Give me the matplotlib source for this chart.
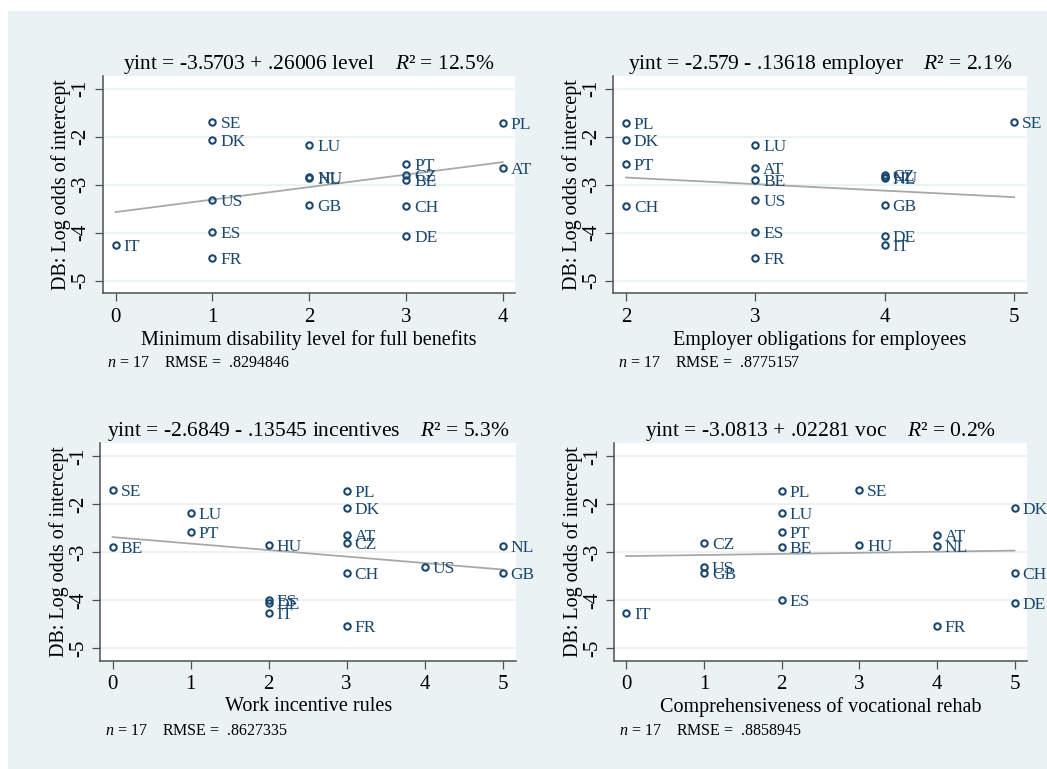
import matplotlib
matplotlib.use("Agg")
import matplotlib.pyplot as plt
from matplotlib.patches import Rectangle
import numpy as np

# Country codes and the dependent variable (DB: log odds of intercept)
countries = ["SE", "PL", "DK", "LU", "PT", "AT", "CZ", "NL", "HU", "BE",
             "US", "GB", "CH", "ES", "DE", "IT", "FR"]
log_odds = [-1.70, -1.72, -2.07, -2.18, -2.57, -2.65, -2.80, -2.87, -2.85, -2.90,
            -3.31, -3.43, -3.44, -3.99, -4.06, -4.26, -4.53]

# Policy indicators, in the same country order
level = [1, 4, 1, 2, 3, 4, 3, 2, 2, 3, 1, 2, 3, 1, 3, 0, 1]
employer = [5, 2, 2, 3, 2, 3, 4, 4, 4, 3, 3, 4, 2, 3, 4, 4, 3]
incentives = [0, 3, 3, 1, 1, 3, 3, 5, 2, 0, 4, 5, 3, 2, 2, 2, 3]
voc = [3, 2, 5, 2, 2, 4, 1, 4, 3, 2, 1, 1, 5, 2, 5, 0, 4]

# Regression results per indicator
var_names = ["level", "employer", "incentives", "voc"]
x_titles = ["Minimum disability level for full benefits",
            "Employer obligations for employees",
            "Work incentive rules",
            "Comprehensiveness of vocational rehab"]
intercepts = [-3.5703, -2.579, -2.6849, -3.0813]
slopes = [0.26006, -0.13618, -0.13545, 0.02281]
r_squared = ["12.5%", "2.1%", "5.3%", "0.2%"]
n_obs = [17, 17, 17, 17]
rmse = [0.8294846, 0.8775157, 0.8627335, 0.8858945]
x_ticks = [[0, 1, 2, 3, 4], [2, 3, 4, 5], [0, 1, 2, 3, 4, 5], [0, 1, 2, 3, 4, 5]]
y_ticks = [-5, -4, -3, -2, -1]

plt.rcParams["font.family"] = ["Liberation Serif", "DejaVu Serif"]
plt.rcParams["mathtext.fontset"] = "custom"
plt.rcParams["mathtext.rm"] = "Liberation Serif"
plt.rcParams["mathtext.it"] = "Liberation Serif:italic"
plt.rcParams["axes.unicode_minus"] = False

W, H = 1047, 769
fig = plt.figure(figsize=(W / 100, H / 100), dpi=100, facecolor="white")
bg = Rectangle((8 / W, 0), 1 - 8 / W, 1 - 11 / H, transform=fig.transFigure,
               facecolor="#eaf2f3", edgecolor="none", zorder=-10)
fig.add_artist(bg)

NAVY = "#1a476f"
GRID = "#eaf2f3"
AXC = "#505050"

# panel boxes in pixels: (left, top, right, bottom), and x limits
boxes = [(102.7, 75.7, 515.3, 293.3), (613.4, 75.7, 1026.5, 293.3),
         (100.4, 443.3, 516.1, 660.7), (614.4, 443.3, 1026.5, 660.7)]
xlims = [(-0.134, 4.13), (1.903, 5.096), (-0.157, 5.172), (-0.152, 5.154)]
xdata = [level, employer, incentives, voc]

for i in range(4):
    l, t, r, b = boxes[i]
    ax = fig.add_axes([l / W, 1 - b / H, (r - l) / W, (b - t) / H])
    ax.set_facecolor("white")
    x = np.array(xdata[i], dtype=float)
    y = np.array(log_odds)

    for yt in y_ticks:
        ax.axhline(yt, color=GRID, lw=1.3, zorder=0.5)

    xs = np.array([x.min(), x.max()])
    ax.plot(xs, intercepts[i] + slopes[i] * xs, color="#a8a8a8", lw=1.3, zorder=2)

    ax.plot(x, y, linestyle="none", marker="o", ms=4.6, mfc="none",
            mec=NAVY, mew=1.5, zorder=3)
    for xi, yi, c in zip(x, y, countries):
        ax.annotate(c, (xi, yi), xytext=(8, -2), textcoords="offset pixels",
                    ha="left", va="center", fontsize=12.5, color=NAVY, zorder=4)

    ax.set_xlim(*xlims[i])
    ax.set_ylim(-5.263, -0.729)
    ax.set_xticks(x_ticks[i])
    ax.set_yticks(y_ticks)
    ax.tick_params(axis="both", direction="out", length=5.8, width=0.9,
                   color=AXC, labelsize=15, labelcolor="black", pad=3)
    ax.tick_params(axis="x", pad=4.5)
    for lab in ax.get_yticklabels():
        lab.set_rotation(90)
        lab.set_va("center")
    for s in ["top", "right"]:
        ax.spines[s].set_visible(False)
    for s in ["left", "bottom"]:
        ax.spines[s].set_color(AXC)
        ax.spines[s].set_linewidth(1.1)

    ax.set_xlabel(x_titles[i], fontsize=14.5, labelpad=2.5)
    ax.set_ylabel("DB: Log odds of intercept", fontsize=14.5, labelpad=0)

    sign = "+" if slopes[i] >= 0 else "-"
    slope_txt = f"{abs(slopes[i]):.5g}".lstrip("0")
    title = (f"yint = {intercepts[i]:.5g} {sign} {slope_txt} {var_names[i]}"
             f"    $R$\u00b2 = {r_squared[i]}")
    ax.set_title(title, fontsize=15.5, pad=5)

    rmse_txt = f"{rmse[i]:.7f}".lstrip("0")
    ax.text(0.01, -0.34, f"$n$ = {n_obs[i]}    RMSE =  {rmse_txt}",
            transform=ax.transAxes, fontsize=11.5, ha="left", va="baseline")

fig.savefig("out.png", dpi=100, facecolor="white")
